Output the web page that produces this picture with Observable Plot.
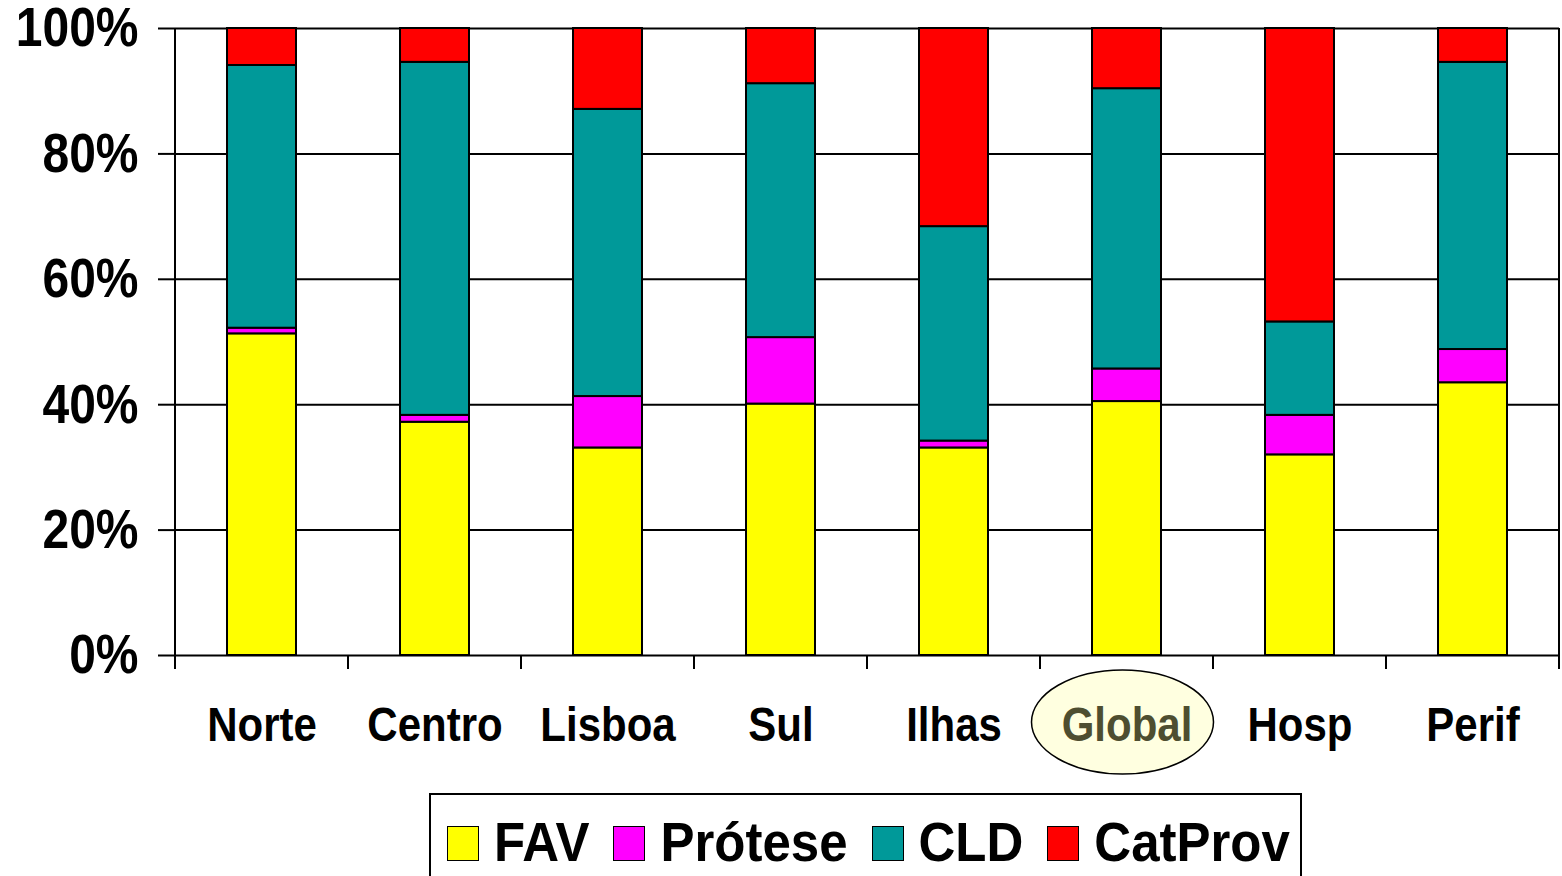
<!DOCTYPE html>
<html>
<head>
<meta charset="utf-8">
<script src="https://cdn.jsdelivr.net/npm/d3@7"></script>
<script src="https://cdn.jsdelivr.net/npm/@observablehq/plot@0.6"></script>
<style>
  html, body { margin: 0; padding: 0; background: #fff; overflow: hidden; }
  body { width: 1562px; height: 876px; position: relative; font-family: "Liberation Sans", Arial, sans-serif; color: #000; }
  #chart { position: absolute; left: 0; top: 0; }
  #legend { position: absolute; left: 429px; top: 793px; width: 873px; height: 130px; border: 2px solid #000;
            box-sizing: border-box; }
  #legend .items { display: flex; align-items: center; position: absolute; left: 16px; top: 26px; }
  #legend .item { display: flex; align-items: center; margin-right: 24px; }
  #legend .sw { width: 32px; height: 35px; border: 1.5px solid #000; box-sizing: border-box; margin-right: 15px; }
  #legend .lab { font-weight: bold; font-size: 51px; line-height: 44px; display: inline-block; transform: scaleY(1.09); position: relative; top: -1px; white-space: nowrap; }
</style>
</head>
<body>
<div id="chart"></div>
<div id="legend"><div class="items"></div></div>
<script>
// ---- data ----
const categories = ["Norte", "Centro", "Lisboa", "Sul", "Ilhas", "Global", "Hosp", "Perif"];
const seriesNames = ["FAV", "Prótese", "CLD", "CatProv"];
const favValues     = [51.3, 37.2, 33.1, 40.1, 33.1, 40.5, 32.0, 43.5];
const proteseValues = [ 0.9,  1.1,  8.2, 10.6,  1.1,  5.2,  6.3,  5.3];
const cldValues     = [41.9, 56.3, 45.8, 40.5, 34.2, 44.7, 14.9, 45.8];
const catProvValues = [ 5.9,  5.4, 12.9,  8.8, 31.6,  9.6, 46.8,  5.4];
const yTicks = [0, 20, 40, 60, 80, 100];
const seriesColors = ["#FFFF00", "#FF00FF", "#009999", "#FF0000"];
const highlighted = "Global";

const FONT = '"Liberation Sans", Arial, sans-serif';
const seriesValues = [favValues, proteseValues, cldValues, catProvValues];
const rows = categories.flatMap((c, i) =>
  seriesNames.map((s, j) => ({category: c, series: s, value: seriesValues[j][i]})));

// custom mark: frame side lines and category boundary ticks
function frameAndTicks(index, scales, values, dims) {
  const x = scales.x;
  const bw = typeof x.bandwidth === "function" ? x.bandwidth() : 69;
  const step = typeof x.step === "function" ? x.step() : (x(categories[1]) - x(categories[0]));
  const top = dims.marginTop, bottom = dims.height - dims.marginBottom;
  const left = dims.marginLeft, right = dims.width - dims.marginRight;
  const g = d3.create("svg:g").attr("stroke", "#000").attr("stroke-width", 2);
  const centers = categories.map(c => x(c) + bw / 2);
  const bounds = centers.map(cx => cx - step / 2).concat([centers[centers.length - 1] + step / 2]);
  bounds.forEach(b => g.append("line").attr("x1", b).attr("x2", b).attr("y1", bottom).attr("y2", bottom + 14));
  g.append("line").attr("x1", left).attr("x2", left).attr("y1", top).attr("y2", bottom);
  g.append("line").attr("x1", right).attr("x2", right).attr("y1", top).attr("y2", bottom);
  return g.node();
}

function highlightEllipse(index, scales, values, dims) {
  const x = scales.x;
  const bw = typeof x.bandwidth === "function" ? x.bandwidth() : 69;
  const bottom = dims.height - dims.marginBottom;
  return d3.create("svg:ellipse")
    .attr("cx", x(highlighted) + bw / 2 - 4)
    .attr("cy", bottom + 67)
    .attr("rx", 91).attr("ry", 52)
    .attr("fill", "#FFFFE0").attr("stroke", "#000").attr("stroke-width", 1.5)
    .node();
}

const H = 790;
const chart = Plot.plot({
  width: 1562,
  height: H,
  marginTop: 28,
  marginBottom: H - 655,
  marginLeft: 175,
  marginRight: 3,
  style: {fontFamily: FONT, background: "transparent", color: "#000", overflow: "visible"},
  x: {domain: categories, paddingInner: 0.6, paddingOuter: 0.3, axis: null},
  y: {domain: [0, 100], axis: null},
  color: {domain: seriesNames, range: seriesColors},
  marks: [
    Plot.ruleY(yTicks, {stroke: "#000", strokeWidth: 2}),
    Plot.barY(rows, {x: "category", y: "value", fill: "series", stroke: "#000", strokeWidth: 2}),
    frameAndTicks,
    Plot.axisY(yTicks, {tickSize: 17, tickPadding: 20, tickFormat: d => d + "%", fontSize: 48, fontWeight: "bold", strokeWidth: 2, label: null}),
    highlightEllipse,
    Plot.text(categories.filter(c => c !== highlighted), {x: d => d, frameAnchor: "bottom", dy: 70, lineAnchor: "middle", fontSize: 42, fontWeight: "bold", fill: "#000"}),
    Plot.text([highlighted], {x: d => d, frameAnchor: "bottom", dy: 70, lineAnchor: "middle", fontSize: 42, fontWeight: "bold", fill: "#4e4e30"})
  ]
});
document.getElementById("chart").append(chart);

// stretch text vertically (the reference glyphs are taller than wide)
chart.querySelectorAll("text").forEach(t => {
  const bb = t.getBBox();
  const cy = bb.y + bb.height / 2;
  const tr = t.getAttribute("transform") || "";
  t.setAttribute("transform", `${tr} translate(0,${cy}) scale(1,1.15) translate(0,${-cy})`);
});

// legend
const items = d3.select("#legend .items");
seriesNames.forEach((s, i) => {
  const it = items.append("div").attr("class", "item");
  it.append("div").attr("class", "sw").style("background", seriesColors[i]);
  it.append("span").attr("class", "lab").text(s);
});
</script>
</body>
</html>
